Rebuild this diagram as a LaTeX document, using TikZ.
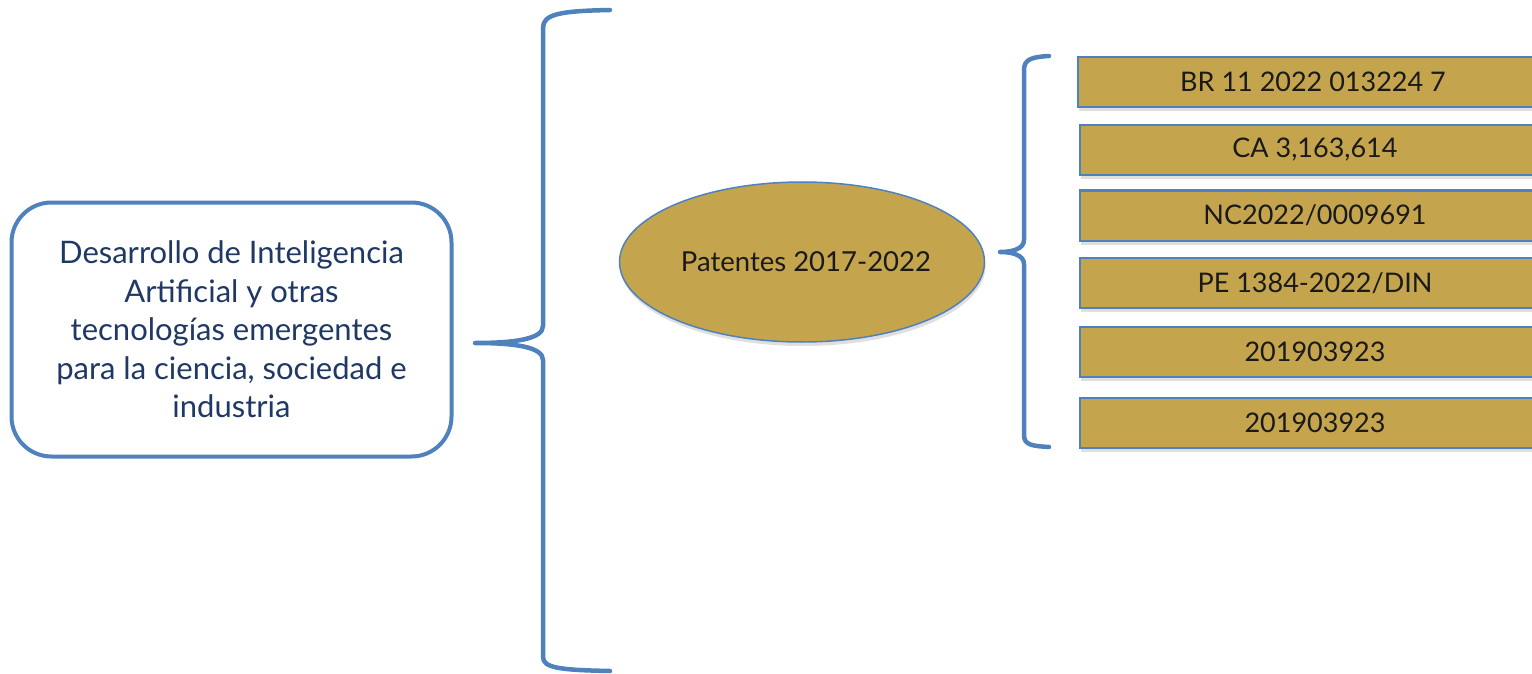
\documentclass[tikz,border=0pt]{standalone}
\usepackage{fontspec}
\setmainfont{Lato}
\usetikzlibrary{shapes.geometric,shadows}
\definecolor{bblue}{HTML}{4F81BD}
\definecolor{gold}{HTML}{C4A54E}
\definecolor{navy}{HTML}{1F3864}
\definecolor{ink}{HTML}{1A1A1A}
\tikzset{
  mainbox/.style={draw=bblue, line width=4pt, rounded corners=40pt, fill=white,
    minimum width=440pt, minimum height=254pt, align=center, text=navy,
    font=\fontsize{31}{38.5}\selectfont, inner sep=0pt},
  brace/.style={draw=bblue, line width=4.5pt, line cap=round, line join=round},
  oval/.style={ellipse, draw=bblue, line width=1.5pt, fill=gold, minimum width=361pt,
    minimum height=160pt, inner sep=0pt, text=ink, font=\fontsize{27.5}{30}\selectfont,
    drop shadow={opacity=0.25, shadow xshift=1pt, shadow yshift=-4pt}},
  patbox/.style={rectangle, draw=bblue, line width=2pt, fill=gold, anchor=west,
    minimum width=470pt, minimum height=50pt, inner sep=0pt, text=ink,
    font=\fontsize{27}{30}\selectfont,
    drop shadow={opacity=0.25, shadow xshift=1pt, shadow yshift=-4pt}}
}
\begin{document}
\begin{tikzpicture}[x=1pt,y=-1pt]
\useasboundingbox (0,0) rectangle (1532,674);
\clip (0,0) rectangle (1532,674);
\node[mainbox] (main) at (231.5,329.5) {Desarrollo de Inteligencia\\Artificial y otras\\tecnologías emergentes\\para la ciencia, sociedad e\\industria};
\coordinate (t1) at (475,343);
\coordinate (t1a) at (610,10);
\coordinate (t1b) at (610,671);
\draw[brace] (t1a) .. controls (560,11) and (543,14) .. (543,28) -- (543,326)
  .. controls (543,339) and (515,343) .. (t1) .. controls (515,343) and (543,347) .. (543,360)
  -- (543,657) .. controls (543,668) and (560,670) .. (t1b);
\node[oval] (pat) at (802,262) {\hspace*{8pt}Patentes 2017-2022};
\coordinate (t2) at (1000,252);
\coordinate (t2a) at (1049,56);
\coordinate (t2b) at (1049,447);
\draw[brace] (t2a) .. controls (1032,57) and (1024,59) .. (1024,70) -- (1024,240)
  .. controls (1024,249) and (1012,252) .. (t2) .. controls (1012,252) and (1024,255) .. (1024,264)
  -- (1024,435) .. controls (1024,445) and (1032,446) .. (t2b);
\node[patbox] (p1) at (1077,82) {BR 11 2022 013224 7};
\node[patbox] (p2) at (1079,150) {CA 3,163,614};
\node[patbox] (p3) at (1079,215.5) {NC2022/0009691};
\node[patbox] (p4) at (1079,283) {PE 1384-2022/DIN};
\node[patbox] (p5) at (1079,351.5) {201903923};
\node[patbox] (p6) at (1079,422.5) {201903923};
\end{tikzpicture}
\end{document}
